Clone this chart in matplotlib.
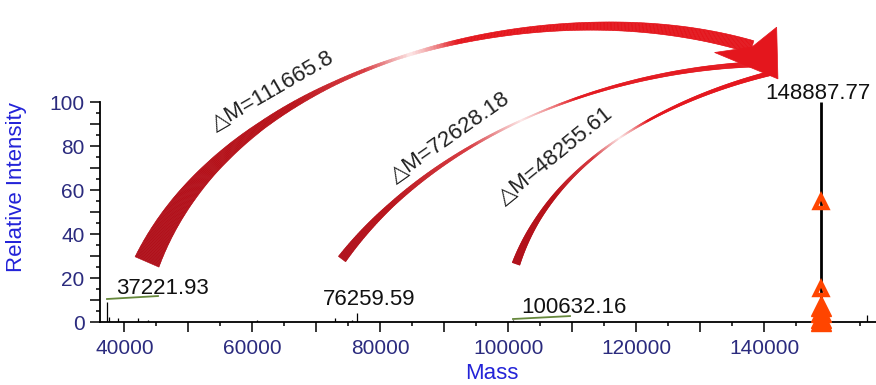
import numpy as np
import matplotlib
matplotlib.use("Agg")
from matplotlib import pyplot as plt
from matplotlib.collections import PolyCollection
from matplotlib.patches import Polygon
from matplotlib.colors import LinearSegmentedColormap
from matplotlib.ticker import MultipleLocator, FuncFormatter

plt.rcParams["font.family"] = ["Liberation Sans", "DejaVu Sans"]

# spectrum sticks (mass, relative intensity)
peak_mass = [37219, 37578, 38938, 42156, 43719, 60656, 72891, 75500, 76260,
             100632, 148888, 155969]
peak_int = [9.2, 2.4, 1.7, 1.7, 1.0, 1.0, 1.7, 1.0, 4.0, 0.8, 100.0, 3.2]
main_mass = 148888

# labelled peaks
label_text = ["37221.93", "76259.59", "100632.16", "148887.77"]
label_mass = [38625, 71063, 102063, 140078]
label_int = [12.7, 7.7, 3.95, 101.2]

# green underline segments
green_mass = [(37266, 45234), (100703, 109609)]
green_int = [(10.45, 11.8), (1.36, 2.7)]

# orange triangles on the main peak
tri_open_int = [54.5, 15.0]
tri_fill_int = [7.5, 4.5, 2.0, 0.5]

# delta-mass labels
delta_text = ["\u25b3M=111665.8", "\u25b3M=72628.18", "\u25b3M=48255.61"]
delta_mass = [63200, 90900, 107300]
delta_int = [105.0, 83.7, 75.5]
delta_angle = [30, 35, 39]

# arrow guide points (mass, intensity), tail -> head
arrow1_mass = [43516, 44922, 48359, 53672, 60391, 67422, 75234, 83047, 98672,
               108047, 117422, 128359, 134609, 138047]
arrow1_int = [27.3, 45.5, 60.9, 73.6, 87.3, 99.1, 109.1, 116.4, 128.2,
              134.1, 137.3, 135.5, 130.9, 125.0]
arrow2_mass = [73984, 76797, 81016, 85703, 93984, 101797, 114297, 126797,
               136172, 141172]
arrow2_int = [28.6, 44.1, 54.1, 62.3, 77.3, 90.0, 105.5, 114.5, 117.7, 117.3]
arrow3_mass = [101172, 103047, 104922, 109141, 117422, 126797, 134609, 141172]
arrow3_int = [26.4, 39.5, 49.5, 63.6, 82.7, 99.1, 108.2, 113.2]
head_pts = [(142100, 110.5), (141900, 134.0), (138047, 125.0), (132200, 122.5)]

DARK = "#B0101A"
RED = "#E4161D"
FADE = "#FDE8E8"
arrow_width = [
    ([0, 0.08, 0.16, 0.26, 0.38, 0.48, 0.6, 0.77, 0.9, 1],
     [26, 20, 14, 8, 4, 2.5, 5, 8, 11, 13]),
    ([0, 0.15, 0.35, 0.5, 0.7, 1], [9, 5, 2.5, 1.2, 3, 5.5]),
    ([0, 0.15, 0.35, 0.5, 0.75, 1], [8, 5, 2.5, 1.2, 3, 4.5]),
]
arrow_fade = [0.5, 0.47, 0.5]
arrow_fade_w = [0.07, 0.12, 0.1]

TICK_C = "#2B2B7E"
LABEL_C = "#2323D8"


def bez_basis(t):
    t = np.asarray(t)[:, None]
    return np.hstack([(1 - t) ** 3, 3 * (1 - t) ** 2 * t, 3 * (1 - t) * t ** 2, t ** 3])


def fit_cubic(Q):
    # least-squares cubic bezier through guide points, ends fixed
    d = np.concatenate([[0], np.cumsum(np.hypot(*np.diff(Q, axis=0).T))])
    B = bez_basis(d / d[-1])
    rhs = Q - np.outer(B[:, 0], Q[0]) - np.outer(B[:, 3], Q[-1])
    mid, *_ = np.linalg.lstsq(B[:, 1:3], rhs, rcond=None)
    return np.vstack([Q[0], mid, Q[-1]])


def draw_arrow(ax, xs, ys, wt, wpx, fade, fw):
    Q = ax.transData.transform(np.column_stack([xs, ys]).astype(float))
    C = fit_cubic(Q)
    t = np.linspace(0, 1, 500)
    pts = bez_basis(t) @ C
    tt = t[:, None]
    d = (3 * (1 - tt) ** 2 * (C[1] - C[0]) + 6 * (1 - tt) * tt * (C[2] - C[1])
         + 3 * tt ** 2 * (C[3] - C[2]))
    n = np.column_stack([-d[:, 1], d[:, 0]]) / np.hypot(d[:, 0], d[:, 1])[:, None]
    s = np.concatenate([[0], np.cumsum(np.hypot(*np.diff(pts, axis=0).T))])
    s = s / s[-1]
    w = np.interp(s, wt, wpx)[:, None] / 2
    inv = ax.transData.inverted()
    left = inv.transform(pts + n * w)
    right = inv.transform(pts - n * w)
    polys = [[left[i], left[i + 1], right[i + 1], right[i]] for i in range(len(s) - 1)]
    cmap = LinearSegmentedColormap.from_list("arr", [
        (0, DARK), (fade - 2.7 * fw, "#B81119"), (fade - fw, "#D83A40"),
        (fade, FADE), (fade + 0.45 * fw, "#F0999B"), (fade + fw, RED), (1, RED)])
    cols = cmap((s[:-1] + s[1:]) / 2)
    pc = PolyCollection(polys, facecolors=cols, edgecolors=cols, linewidths=0.4,
                        clip_on=False, zorder=4)
    ax.add_collection(pc)


fig = plt.figure(figsize=(8.76, 3.85), dpi=100)
ax = fig.add_axes([100 / 876, 63 / 385, 776 / 876, 220 / 385])
ax.set_xlim(36172, 157422)
ax.set_ylim(0, 100)

for s in ["top", "right"]:
    ax.spines[s].set_visible(False)
for s in ["left", "bottom"]:
    ax.spines[s].set_linewidth(1.3)

ax.xaxis.set_major_locator(MultipleLocator(10000))
ax.xaxis.set_minor_locator(MultipleLocator(5000))
ax.xaxis.set_major_formatter(FuncFormatter(lambda v, p: "%d" % v if v % 20000 == 0 else ""))
ax.yaxis.set_major_locator(MultipleLocator(10))
ax.yaxis.set_minor_locator(MultipleLocator(5))
ax.yaxis.set_major_formatter(FuncFormatter(lambda v, p: "%d" % v if v % 20 == 0 else ""))
ax.tick_params(which="major", length=7, width=1.1, labelsize=15, labelcolor=TICK_C, pad=4)
ax.tick_params(which="minor", length=3, width=1.1)
ax.tick_params(axis="x", which="major", pad=5)

ax.set_xlabel("Mass", fontsize=16, color=LABEL_C)
ax.set_ylabel("Relative Intensity", fontsize=16, color=LABEL_C)
ax.xaxis.set_label_coords(0.505, -0.185)
ax.yaxis.set_label_coords(-0.094, 0.614)

# spectrum
lw = [2.0 if m == main_mass else 0.9 for m in peak_mass]
ax.vlines(peak_mass, 0, peak_int, colors="black", linewidths=lw, zorder=3)

for xs, ys in zip(green_mass, green_int):
    ax.plot(xs, ys, color="#66883C", lw=1.3, zorder=3)

for txt, m, i in zip(label_text, label_mass, label_int):
    ax.text(m, i, txt, fontsize=16, color="#111111", ha="left", va="baseline",
            clip_on=False, zorder=5)

ax.plot([main_mass] * len(tri_fill_int), tri_fill_int, linestyle="none", marker="^",
        markersize=15, markerfacecolor="#FF4500", markeredgecolor="#FF4500",
        markeredgewidth=1.0, clip_on=False, zorder=6)
ax.plot([main_mass] * len(tri_open_int), tri_open_int, linestyle="none", marker="^",
        markersize=9, markerfacecolor="none", markeredgecolor="#FF4500",
        markeredgewidth=3.2, clip_on=False, zorder=6)

arrows = [(arrow1_mass, arrow1_int), (arrow2_mass, arrow2_int), (arrow3_mass, arrow3_int)]
for (xs, ys), (wt, wpx), fd, fw in zip(arrows, arrow_width, arrow_fade, arrow_fade_w):
    draw_arrow(ax, xs, ys, wt, wpx, fd, fw)
ax.add_patch(Polygon(head_pts, closed=True, facecolor=RED, edgecolor=RED, lw=0.5,
                     clip_on=False, zorder=4))

for txt, m, i, a in zip(delta_text, delta_mass, delta_int, delta_angle):
    ax.text(m, i, txt, fontsize=16, color="#222222", rotation=a, ha="center",
            va="center", rotation_mode="anchor", clip_on=False, zorder=5)

fig.savefig("out.png", dpi=100)
